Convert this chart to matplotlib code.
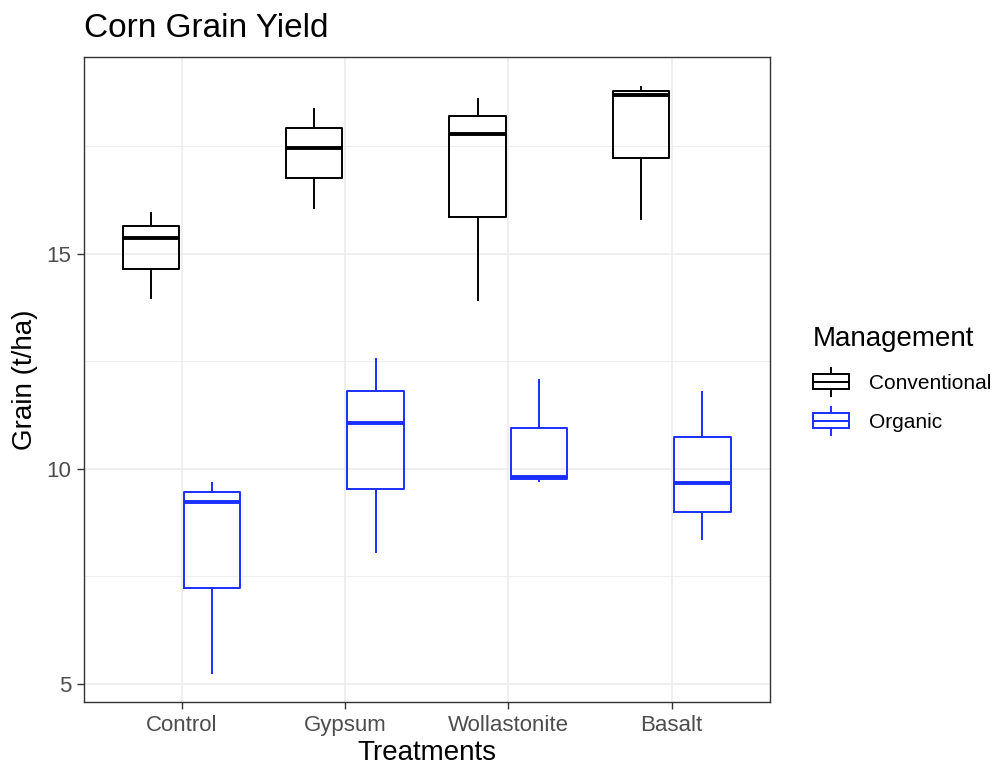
import matplotlib
matplotlib.use('Agg')
from matplotlib import pyplot as plt
from matplotlib.legend_handler import HandlerBase
from matplotlib.patches import Rectangle
from matplotlib.lines import Line2D

plt.rcParams['font.family'] = ['Liberation Sans', 'DejaVu Sans']

treatments = ['Control', 'Gypsum', 'Wollastonite', 'Basalt']
management = ['Conventional', 'Organic']

# five-number summaries per treatment
conv_whislo = [13.98, 16.07, 13.93, 15.81]
conv_q1 = [14.65, 16.76, 15.87, 17.24]
conv_med = [15.36, 17.46, 17.80, 18.70]
conv_q3 = [15.66, 17.93, 18.21, 18.79]
conv_whishi = [15.94, 18.37, 18.60, 18.89]

org_whislo = [5.25, 8.07, 9.71, 8.37]
org_q1 = [7.22, 9.54, 9.76, 9.00]
org_med = [9.22, 11.07, 9.80, 9.66]
org_q3 = [9.45, 11.81, 10.94, 10.73]
org_whishi = [9.67, 12.56, 12.06, 11.79]

colors = {'Conventional': 'black', 'Organic': '#1a2eff'}
summaries = {
    'Conventional': (conv_whislo, conv_q1, conv_med, conv_q3, conv_whishi),
    'Organic': (org_whislo, org_q1, org_med, org_q3, org_whishi),
}
offsets = {'Conventional': -0.188, 'Organic': 0.188}
line_w = 1.4


class BoxKeyHandler(HandlerBase):
    # small boxplot glyph for the legend keys
    def create_artists(self, legend, orig_handle, xdescent, ydescent,
                       width, height, fontsize, trans):
        c = orig_handle.get_edgecolor()
        x0, y0 = -xdescent, -ydescent
        xm = x0 + width / 2
        b0, b1 = y0 + height * 0.2, y0 + height * 0.8
        box = Rectangle((x0, b0), width, b1 - b0, facecolor='white',
                        edgecolor=c, lw=line_w, transform=trans)
        med = Line2D([x0, x0 + width], [(b0 + b1) / 2] * 2, color=c, lw=line_w, transform=trans)
        w_lo = Line2D([xm, xm], [y0 - height * 0.05, b0], color=c, lw=line_w, transform=trans)
        w_hi = Line2D([xm, xm], [b1, y0 + height * 1.05], color=c, lw=line_w, transform=trans)
        return [w_lo, w_hi, box, med]


figure = plt.figure(figsize=(10.05, 7.67), dpi=100)
ax = figure.add_axes([0.0831, 0.0843, 0.6827, 0.8409])
ax.set_axisbelow(True)

for group in management:
    whislo, q1, med, q3, whishi = summaries[group]
    stats = []
    for i in range(len(treatments)):
        stats.append({'whislo': whislo[i], 'q1': q1[i], 'med': med[i],
                      'q3': q3[i], 'whishi': whishi[i], 'fliers': []})
    positions = [i + 1 + offsets[group] for i in range(len(treatments))]
    c = colors[group]
    ax.bxp(stats, positions=positions, widths=0.345, showcaps=False,
           showfliers=False, manage_ticks=False,
           boxprops=dict(color=c, lw=line_w),
           whiskerprops=dict(color=c, lw=line_w),
           medianprops=dict(color=c, lw=2 * line_w))

# ggplot-style 5% expansion of the data range
all_vals = conv_whislo + conv_whishi + org_whislo + org_whishi
lo, hi = min(all_vals), max(all_vals)
pad = 0.05 * (hi - lo)
ax.set_ylim(lo - pad, hi + pad)
ax.set_xlim(0.4, len(treatments) + 0.6)

ax.set_xticks(range(1, len(treatments) + 1))
ax.set_xticklabels(treatments)
ax.set_yticks([5, 10, 15])
ax.set_yticks([7.5, 12.5, 17.5], minor=True)

ax.grid(which='major', color='#EBEBEB', lw=1.1)
ax.grid(which='minor', axis='y', color='#EBEBEB', lw=0.6)
ax.tick_params(which='major', length=5, width=1, color='#333333',
               labelsize=16, labelcolor='#4D4D4D', pad=4)
ax.tick_params(which='minor', length=0)
for spine in ax.spines.values():
    spine.set_color('#333333')
    spine.set_linewidth(1)

ax.set_xlabel('Treatments', fontsize=20, labelpad=3)
ax.set_ylabel('Grain (t/ha)', fontsize=20, labelpad=6)
ax.set_title('Corn Grain Yield', fontsize=24, loc='left', pad=15)

handles = [Rectangle((0, 0), 1, 1, facecolor='white', edgecolor=colors[g]) for g in management]
legend = ax.legend(handles, management, title='Management', frameon=False,
                   loc='center left', bbox_to_anchor=(813 / 1005, 1 - 380 / 767),
                   bbox_transform=figure.transFigure, borderpad=0, borderaxespad=0,
                   fontsize=15, title_fontsize=20, handlelength=1.75,
                   handleheight=1.5, labelspacing=0.65, handletextpad=0.95,
                   handler_map={Rectangle: BoxKeyHandler()})
legend._legend_box.align = 'left'
legend._legend_box.sep = 12

plt.savefig('out.png', dpi=100)
